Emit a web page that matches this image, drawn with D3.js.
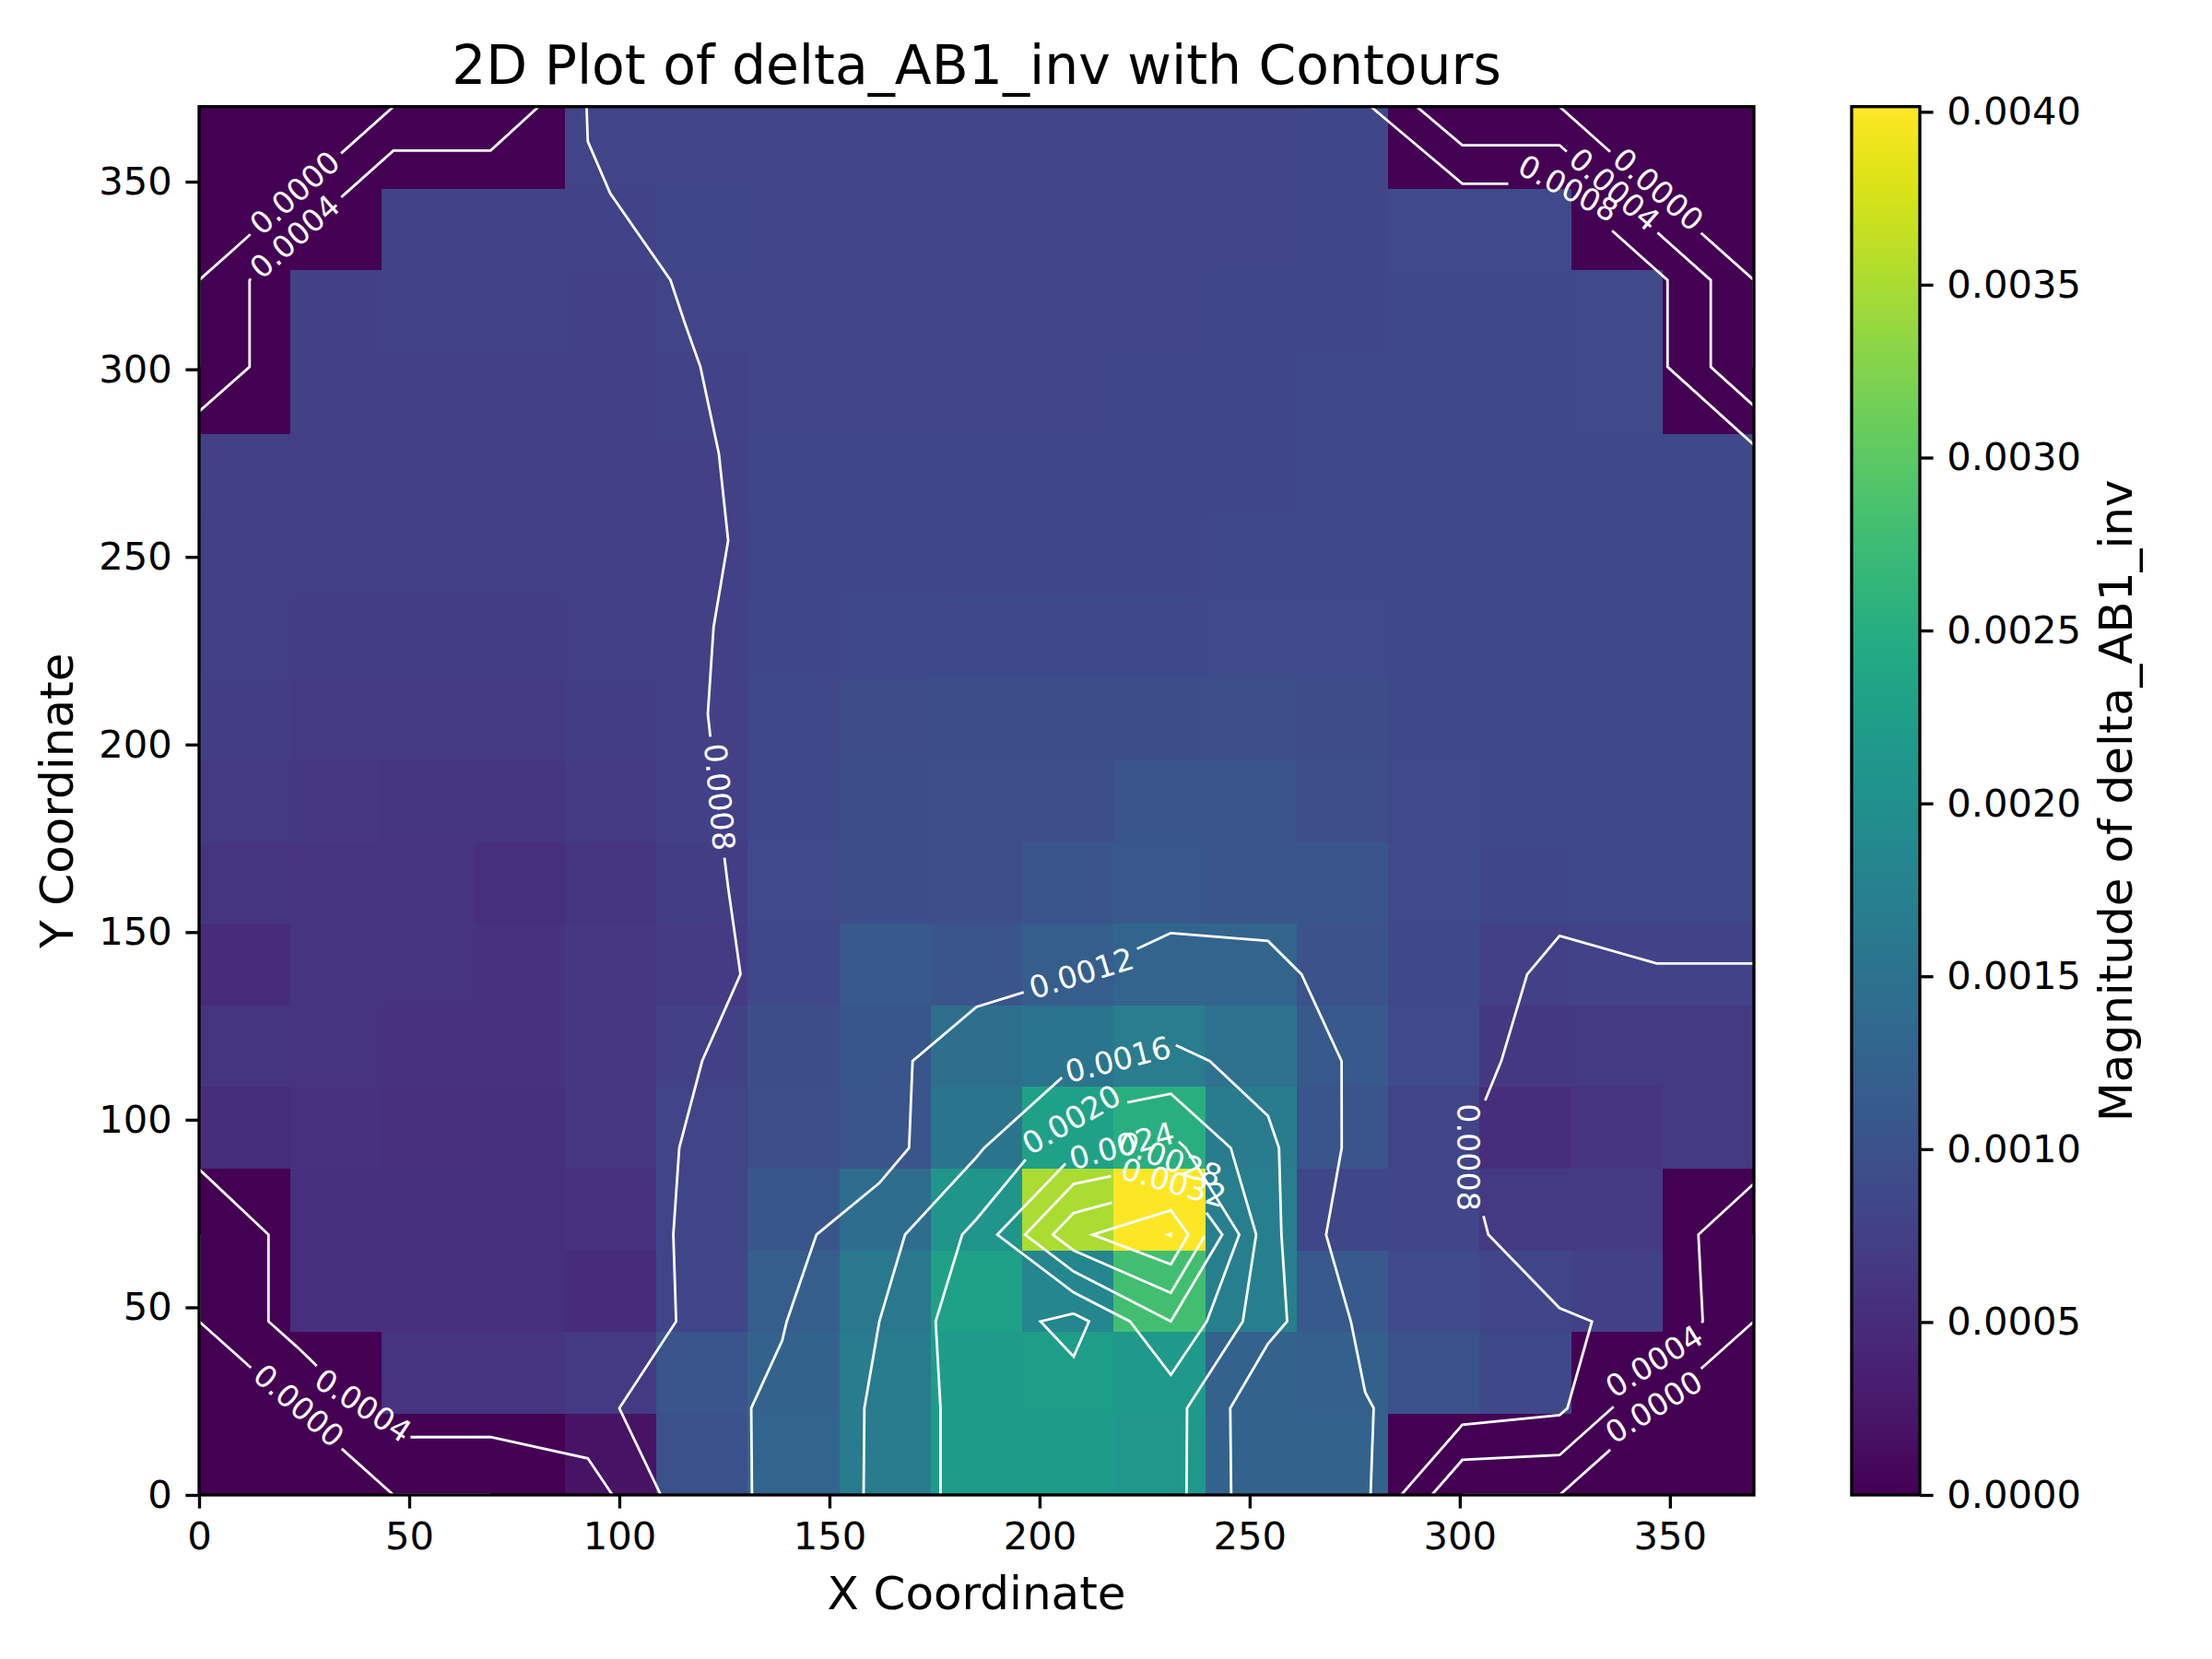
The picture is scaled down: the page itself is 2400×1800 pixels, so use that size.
<!DOCTYPE html>
<html><head><meta charset="utf-8">
<script src="https://cdn.jsdelivr.net/npm/d3@7"></script>
<style>html,body{margin:0;padding:0;background:#fff}svg{display:block}text{font-family:"DejaVu Sans";fill:#000}</style>
</head><body><svg id="c" width="2400" height="1800"></svg>
<script>
// Values, row 0 = lowest Y
const r00=[0,0,0,0,.000196,.001,.00129,.00166,.0022,.0022,.00214,.00127,.00127,0,0,0,0];
const r01=[0,0,.0006,.0006,.00068,.00105,.00127,.00166,.0022,.00222,.00215,.00125,.00122,.00099,.00087,0,0];
const r02=[0,.00056,.00056,.00056,.0005,.00083,.00118,.0016,.00229,.00185,.0028,.00172,.00111,.0009,.00082,.00076,0];
const r03=[0,.00056,.00056,.00056,.00058,.00083,.00108,.00142,.0021,.0035,.004015,.00172,.00085,.00084,.00069,.0007,0];
const r04=[.00053,.00058,.00054,.00056,.00064,.00081,.00095,.00105,.00154,.0023,.00253,.00167,.00105,.00081,.00052,.0006,.00068];
const r05=[.00062,.0006,.00058,.00058,.00064,.00077,.00094,.00107,.00145,.00155,.00168,.00148,.00111,.0009,.00065,.00068,.00068];
const r06=[.0005,.0006,.0006,.00058,.00064,.0007,.000875,.0011,.00105,.00119,.0013,.0013,.00101,.00088,.00076,.00079,.00079];
const r07=[.00062,.0006,.0006,.00056,.00062,.00072,.0009,.00093,.00095,.00105,.00109,.00104,.00105,.0009,.00085,.00087,.00087];
const r08=[.00066,.00064,.00062,.00062,.00066,.00076,.00088,.00093,.00095,.00095,.00105,.00105,.00095,.0009,.00087,.00087,.00087];
const r09=[.00071,.00068,.00068,.00068,.00072,.00078,.000865,.00092,.00093,.00093,.00094,.00096,.00091,.00088,.00087,.00087,.00087];
const r10=[.00074,.00072,.00072,.00072,.00074,.000775,.00086,.00087,.00088,.00088,.00088,.0009,.0009,.00087,.00087,.00087,.00087];
const r11=[.00075,.00074,.00074,.00074,.00075,.00076,.00085,.00085,.00086,.00086,.00086,.00087,.00087,.00087,.00087,.00087,.00087];
const r12=[.00078,.00077,.00077,.00077,.00077,.00077,.000856,.00085,.00085,.00085,.00085,.00086,.00087,.00088,.00088,.00089,.00089];
const r13=[0,.00077,.00078,.00078,.00077,.000793,.000837,.00084,.00084,.00084,.00085,.00086,.00087,.00088,.00089,.0009,0];
const r14=[0,.00077,.00079,.00079,.00076,.000807,.00083,.00083,.00083,.00084,.00084,.00085,.00086,.00088,.00089,.0009,0];
const r15=[0,0,.00079,.00079,.000785,.00085,.00083,.00083,.00083,.00083,.00083,.00084,.00085,.0009,.0009,0,0];
const r16=[0,0,0,0,.00081,.00083,.00083,.00082,.00082,.00082,.00082,.00083,.00085,0,0,0,0];
const rows=[r00,r01,r02,r03,r04,r05,r06,r07,r08,r09,r10,r11,r12,r13,r14,r15,r16];

const levels=[0,.0004,.0008,.0012,.0016,.002,.0024,.0028,.0032,.0036,.004];
const axisTicks=[0,50,100,150,200,250,300,350];
const barTicks=[0,.0005,.001,.0015,.002,.0025,.003,.0035,.004];
// level, x, y, rotation
const labelLevels=[0,.0004,.0008,.0004,.0004,.0008,0,0,.0004,.0008,0,.0012,.0016,.002,.0024,.0028,.0032];
const labelX=[22.8,22.8,123.8,39,346.3,302,23.7,347.2,336.8,325.8,346.2,210,218.7,207.6,219.6,231,231.9];
const labelY=[347,335.3,186,23.8,35.6,90,23.8,347.9,347.9,348.2,23.4,139,116,100,93,89.4,83.2];
const labelRot=[-41.7,-41.7,85,33,-32,90,41,41,41,28,-32,-17,-14,-30,-15,20,16];

const W=370,n=17,vmax=.004015;
const L=216,R=1903,T=115.7,B=1622;
const BL=2009,BR=2083;
const flat=rows.flat();
const svg=d3.select('#c');
const x=d3.scaleLinear([0,W],[L,R]), y=d3.scaleLinear([0,W],[B,T]);
const cellX=d3.scaleLinear([0,n],[L,R]), cellY=d3.scaleLinear([0,n],[B,T]);
const color=d3.scaleSequential(d3.interpolateViridis).domain([0,vmax]);

// image cells
svg.append('g').attr('shape-rendering','crispEdges').selectAll('rect').data(flat).join('rect')
 .attr('x',(d,i)=>cellX(i%n)).attr('y',(d,i)=>cellY(Math.floor(i/n)+1))
 .attr('width',cellX(1)-cellX(0)+.5).attr('height',cellY(0)-cellY(1)+.5)
 .attr('fill',d=>color(d));

// contours
const gx=d3.scaleLinear([.5,n-.5],[0,W]), gy=d3.scaleLinear([.5,n-.5],[0,W]);
const inside=p=>p[0]>=.5-1e-9&&p[0]<=n-.5+1e-9&&p[1]>=.5-1e-9&&p[1]<=n-.5+1e-9;
function rings2lines(rings){
  const out=[];
  rings.forEach(ring=>{
    const pts=ring.slice(0,-1);
    const k=pts.findIndex(p=>!inside(p));
    if(k<0){out.push({closed:true,pts:ring.slice()});return;}
    const rot=pts.slice(k).concat(pts.slice(0,k));
    let cur=[];
    rot.forEach(p=>{ if(inside(p))cur.push(p); else { if(cur.length>1)out.push({closed:false,pts:cur}); cur=[]; } });
    if(cur.length>1)out.push({closed:false,pts:cur});
  });
  return out;
}
const gen=d3.contours().size([n,n]).smooth(true);
let lineSets=levels.map(lv=>{
  const c=gen.contour(flat,lv||1e-9);
  const rings=c.coordinates.flat();
  return rings2lines(rings).map(l=>({closed:l.closed,pts:l.pts.map(p=>[x(gx(p[0])),y(gy(p[1]))])}));
});
function lens(p){let s=[0];for(let i=1;i<p.length;i++)s.push(s[i-1]+Math.hypot(p[i][0]-p[i-1][0],p[i][1]-p[i-1][1]));return s;}
function slice(p,a,b){
  const s=lens(p),o=[];
  const at=t=>{let i=d3.bisectLeft(s,t);i=Math.max(1,Math.min(p.length-1,i));const f=(t-s[i-1])/((s[i]-s[i-1])||1);return[p[i-1][0]+f*(p[i][0]-p[i-1][0]),p[i-1][1]+f*(p[i][1]-p[i-1][1])];};
  o.push(at(a));
  for(let i=0;i<p.length;i++)if(s[i]>a&&s[i]<b)o.push(p[i]);
  o.push(at(b));
  return o;
}
function cut(lines,cx,cy,h){
  let best=null;
  lines.forEach((l,li)=>{
    const s=lens(l.pts);
    for(let i=1;i<l.pts.length;i++){
      const a=l.pts[i-1],b=l.pts[i],dx=b[0]-a[0],dy=b[1]-a[1],q=dx*dx+dy*dy||1;
      const t=Math.max(0,Math.min(1,((cx-a[0])*dx+(cy-a[1])*dy)/q));
      const d=Math.hypot(a[0]+t*dx-cx,a[1]+t*dy-cy);
      if(!best||d<best.d)best={d,li,s0:s[i-1]+t*(s[i]-s[i-1])};
    }
  });
  if(!best)return lines;
  const l=lines[best.li],s=lens(l.pts),LL=s[s.length-1],res=lines.filter((_,i)=>i!==best.li);
  if(l.closed){
    if(LL<=2*h)return res;
    const a=(best.s0+h)%LL;
    const twice=l.pts.concat(l.pts.slice(1));
    res.push({closed:false,pts:slice(twice,a,a+LL-2*h)});
  } else {
    if(best.s0-h>0)res.push({closed:false,pts:slice(l.pts,0,best.s0-h)});
    if(best.s0+h<LL)res.push({closed:false,pts:slice(l.pts,best.s0+h,LL)});
  }
  return res;
}
const FS=33.33, gapH=66;
labelLevels.forEach((lv,i)=>{
  const k=levels.indexOf(lv);
  lineSets[k]=cut(lineSets[k],x(labelX[i]),y(labelY[i]),gapH);
});
svg.append('clipPath').attr('id','ax').append('rect').attr('x',L).attr('y',T).attr('width',R-L).attr('height',B-T);
const lg=svg.append('g').attr('clip-path','url(#ax)').attr('fill','none').attr('stroke','#fff').attr('stroke-width',2.8).attr('stroke-linejoin','miter');
const pathGen=d3.line();
lineSets.forEach(ls=>ls.forEach(l=>lg.append('path').attr('d',pathGen(l.pts))));

// labels
labelLevels.forEach((lv,i)=>{
  svg.append('text').text(d3.format('.4f')(lv))
   .attr('transform',`translate(${x(labelX[i])},${y(labelY[i])}) rotate(${labelRot[i]})`)
   .attr('text-anchor','middle').attr('dominant-baseline','central')
   .style('font-size',FS+'px').style('fill','#fff');
});

// axes
const TS=14.6,SW=3.33,TF=41.67;
function style(g){g.select('.domain').remove();g.selectAll('line').attr('stroke','#000').attr('stroke-width',SW);g.selectAll('text').style('font-size',TF+'px').style('font-family','"DejaVu Sans"').attr('fill','#000');}
svg.append('g').attr('transform',`translate(0,${B})`).call(d3.axisBottom(x).tickValues(axisTicks).tickFormat(d3.format('d')).tickSize(TS).tickPadding(TS)).call(style);
svg.append('g').attr('transform',`translate(${L},0)`).call(d3.axisLeft(y).tickValues(axisTicks).tickFormat(d3.format('d')).tickSize(TS).tickPadding(TS)).call(style);
svg.append('rect').attr('x',L).attr('y',T).attr('width',R-L).attr('height',B-T).attr('fill','none').attr('stroke','#000').attr('stroke-width',SW);

// titles
svg.append('text').text('2D Plot of delta_AB1_inv with Contours').attr('x',(L+R)/2).attr('y',91).attr('text-anchor','middle').style('font-size','58.33px');
svg.append('text').text('X Coordinate').attr('x',(L+R)/2).attr('y',1746).attr('text-anchor','middle').style('font-size','50px');
svg.append('text').text('Y Coordinate').attr('transform',`translate(79,${(T+B)/2}) rotate(-90)`).attr('text-anchor','middle').style('font-size','50px');

// colorbar
const barY=d3.scaleLinear([0,vmax],[B,T]);
const steps=d3.range(256);
const stepV=d3.scaleLinear([0,256],[0,vmax]);
svg.append('g').attr('shape-rendering','crispEdges').selectAll('rect').data(steps).join('rect')
 .attr('x',BL).attr('width',BR-BL).attr('y',d=>barY(stepV(d+1))).attr('height',d=>barY(stepV(d))-barY(stepV(d+1))+.6)
 .attr('fill',d=>color(stepV(d+.5)));
svg.append('g').attr('transform',`translate(${BR},0)`).call(d3.axisRight(barY).tickValues(barTicks).tickFormat(d3.format('.4f')).tickSize(TS).tickPadding(TS)).call(style);
svg.append('rect').attr('x',BL).attr('y',T).attr('width',BR-BL).attr('height',B-T).attr('fill','none').attr('stroke','#000').attr('stroke-width',SW);
svg.append('text').text('Magnitude of delta_AB1_inv').attr('transform',`translate(2313,${(T+B)/2}) rotate(-90)`).attr('text-anchor','middle').style('font-size','50px');
</script></body></html>
